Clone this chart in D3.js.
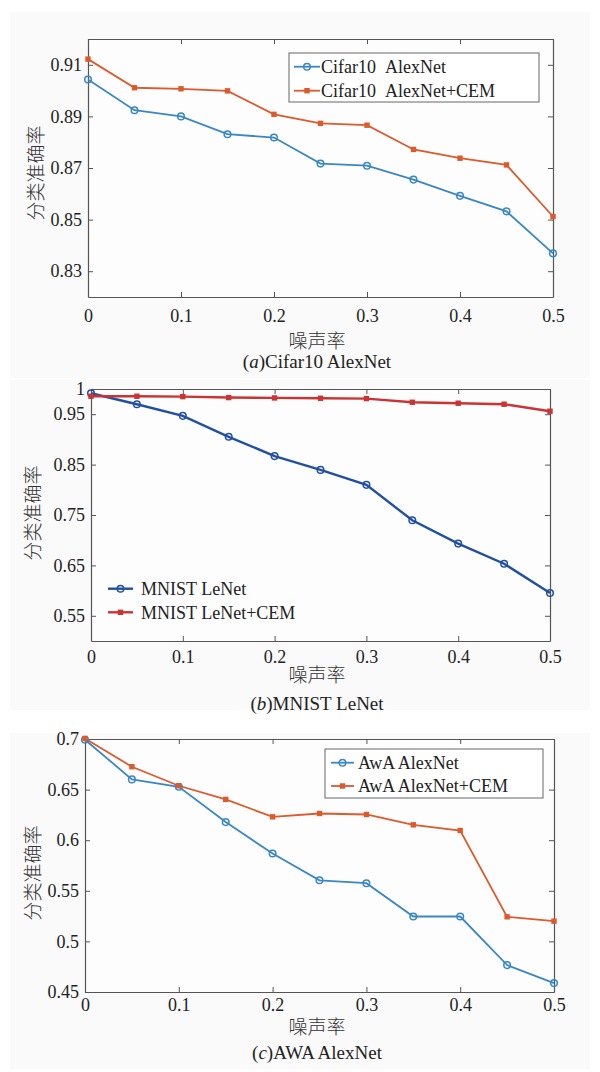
<!DOCTYPE html>
<html><head><meta charset="utf-8">
<script src="https://cdn.jsdelivr.net/npm/d3@7"></script>
<style>body{margin:0;background:#fff;}svg{display:block;}</style>
</head><body>
<svg id="c" width="600" height="1072"></svg>
<script>
const noise = [0,0.05,0.1,0.15,0.2,0.25,0.3,0.35,0.4,0.45,0.5];
const xTicks = [0,0.1,0.2,0.3,0.4,0.5];

const cifarNames = ["Cifar10\u00a0\u00a0AlexNet","Cifar10\u00a0\u00a0AlexNet+CEM"];
const cifarBase = [0.9043,0.8924,0.8900,0.8831,0.8818,0.8717,0.8709,0.8655,0.8592,0.8532,0.8369];
const cifarCEM  = [0.9122,0.9011,0.9007,0.8999,0.8908,0.8873,0.8866,0.8772,0.8738,0.8712,0.8512];
const cifarYTicks = [0.83,0.85,0.87,0.89,0.91];

const mnistNames = ["MNIST LeNet","MNIST LeNet+CEM"];
const mnistBase = [0.9915,0.9698,0.9467,0.9052,0.8669,0.8395,0.8098,0.7395,0.6933,0.6533,0.5953];
const mnistCEM  = [0.9856,0.9856,0.9849,0.9830,0.9823,0.9816,0.9810,0.9737,0.9718,0.9698,0.9559];
const mnistYTicks = [0.55,0.65,0.75,0.85,0.95,1];

const awaNames = ["AwA AlexNet","AwA AlexNet+CEM"];
const awaBase = [0.6993,0.6601,0.6528,0.6179,0.5868,0.5604,0.5575,0.5246,0.5246,0.4766,0.4588];
const awaCEM  = [0.7005,0.6726,0.6538,0.6403,0.6231,0.6264,0.6254,0.6152,0.6096,0.5243,0.5200];
const awaYTicks = [0.45,0.5,0.55,0.6,0.65,0.7];

const yLabel = "分类准确率";
const xLabel = "噪声率";

const svg = d3.select("#c");
const serif = "'Liberation Serif','Times New Roman',serif";
const cjk = "'Noto Sans CJK SC','Noto Sans CJK JP',sans-serif";
const FS = 18;

function panel(o){
  const g = svg.append("g");
  g.append("rect").attr("x",o.bg[0]).attr("y",o.bg[1]).attr("width",o.bg[2]).attr("height",o.bg[3]).attr("fill","#fafafa");
  const x = d3.scaleLinear().domain([0,0.5]).range([o.left,o.right]);
  const y = d3.scaleLinear().domain(o.yDomain).range([o.bottom,o.top]);
  g.append("rect").attr("x",o.left).attr("y",o.top).attr("width",o.right-o.left).attr("height",o.bottom-o.top).attr("fill","#fdfdfd");
  const tl = 5;
  const axB = g.append("g").attr("transform",`translate(0,${o.bottom})`)
    .call(d3.axisBottom(x).tickValues(xTicks).tickFormat(d3.format("")).tickSizeInner(-tl).tickSizeOuter(0).tickPadding(o.xpad));
  const axT = g.append("g").attr("transform",`translate(0,${o.top})`)
    .call(d3.axisTop(x).tickValues(xTicks).tickFormat("").tickSizeInner(-tl).tickSizeOuter(0));
  const axL = g.append("g").attr("transform",`translate(${o.left},0)`)
    .call(d3.axisLeft(y).tickValues(o.yTicks).tickFormat(d=>String(d)).tickSizeInner(-tl).tickSizeOuter(0).tickPadding(6));
  const axR = g.append("g").attr("transform",`translate(${o.right},0)`)
    .call(d3.axisRight(y).tickValues(o.yTicks).tickFormat("").tickSizeInner(-tl).tickSizeOuter(0));
  [axB,axT,axL,axR].forEach(a=>{
    a.selectAll(".domain").attr("stroke","#555").attr("stroke-width",1.2);
    a.selectAll(".tick line").attr("stroke","#555").attr("stroke-width",1);
    a.selectAll("text").attr("font-family",serif).attr("font-size",FS).attr("fill","#222");
  });
  const line = d3.line().x((d,i)=>x(noise[i])).y(d=>y(d));
  const series = [{v:o.base,c:o.c1,m:"o"},{v:o.cem,c:o.c2,m:"s"}];
  series.forEach(s=>{
    g.append("path").datum(s.v).attr("d",line).attr("fill","none").attr("stroke",s.c).attr("stroke-width",o.lw);
  });
  series.forEach(s=>{
    if(s.m==="o"){
      g.selectAll(null).data(s.v).enter().append("circle")
        .attr("cx",(d,i)=>x(noise[i])).attr("cy",d=>y(d)).attr("r",3.3)
        .attr("fill","none").attr("stroke",s.c).attr("stroke-width",1.5);
    } else {
      g.selectAll(null).data(s.v).enter().append("rect")
        .attr("x",(d,i)=>x(noise[i])-2.7).attr("y",d=>y(d)-2.7).attr("width",5.4).attr("height",5.4)
        .attr("fill",s.c);
    }
  });
  const L = o.legend;
  if(L.box){
    g.append("rect").attr("x",L.box[0]).attr("y",L.box[1]).attr("width",L.box[2]).attr("height",L.box[3])
      .attr("fill","#fff").attr("stroke","#666").attr("stroke-width",1);
  }
  series.forEach((s,i)=>{
    const yy = L.ys[i];
    g.append("line").attr("x1",L.x1).attr("x2",L.x2).attr("y1",yy).attr("y2",yy).attr("stroke",s.c).attr("stroke-width",o.lw);
    const mx=(L.x1+L.x2)/2;
    if(s.m==="o") g.append("circle").attr("cx",mx).attr("cy",yy).attr("r",3.3).attr("fill","none").attr("stroke",s.c).attr("stroke-width",1.5);
    else g.append("rect").attr("x",mx-2.7).attr("y",yy-2.7).attr("width",5.4).attr("height",5.4).attr("fill",s.c);
    g.append("text").attr("x",L.tx).attr("y",yy).attr("dy","0.35em").attr("font-family",serif).attr("font-size",FS).attr("fill","#222").text(o.names[i]);
  });
  g.append("text").attr("transform",`translate(${o.ylx},${o.yly}) rotate(-90)`).attr("text-anchor","middle").attr("dy","0.35em")
    .attr("font-family",cjk).attr("font-size",19).attr("font-weight",300).attr("fill","#333").text(yLabel);
  g.append("text").attr("x",o.xlx).attr("y",o.xly).attr("text-anchor","middle").attr("dy","0.35em")
    .attr("font-family",cjk).attr("font-size",19).attr("font-weight",300).attr("fill","#333").text(xLabel);
  const t = g.append("text").attr("x",o.xlx).attr("y",o.tty).attr("text-anchor","middle").attr("dy","0.35em")
    .attr("font-family",serif).attr("font-size",19).attr("fill","#222");
  t.append("tspan").text("(");
  t.append("tspan").attr("font-style","italic").text(o.letter);
  t.append("tspan").text(")"+o.title);
}

panel({bg:[10,12,580,366],left:88,right:553,top:39,bottom:297,yDomain:[0.82,0.92],yTicks:cifarYTicks,xpad:12,
  base:cifarBase,cem:cifarCEM,c1:"#3a87c5",c2:"#dc5a2c",lw:1.8,names:cifarNames,
  legend:{box:[289,53,250,49],ys:[66.7,90.7],x1:294,x2:320,tx:321},
  ylx:36,yly:173,xlx:317,xly:341,tty:361,letter:"a",title:"Cifar10 AlexNet"});

panel({bg:[10,380,580,330],left:91,right:550,top:389,bottom:641,yDomain:[0.5,1.0],yTicks:mnistYTicks,xpad:9,
  base:mnistBase,cem:mnistCEM,c1:"#2150a2",c2:"#cc3333",lw:2.4,names:mnistNames,
  legend:{box:null,ys:[588.7,612.3],x1:108,x2:133,tx:141},
  ylx:33,yly:513,xlx:317,xly:675,tty:703,letter:"b",title:"MNIST LeNet"});

panel({bg:[10,733,580,336],left:85,right:554,top:739,bottom:992,yDomain:[0.45,0.7],yTicks:awaYTicks,xpad:6,
  base:awaBase,cem:awaCEM,c1:"#3a87c5",c2:"#dc5a2c",lw:1.8,names:awaNames,
  legend:{box:[325,749,218,49],ys:[762.7,786],x1:331,x2:354,tx:358},
  ylx:33,yly:873,xlx:317,xly:1027,tty:1052,letter:"c",title:"AWA AlexNet"});
</script>
</body></html>
